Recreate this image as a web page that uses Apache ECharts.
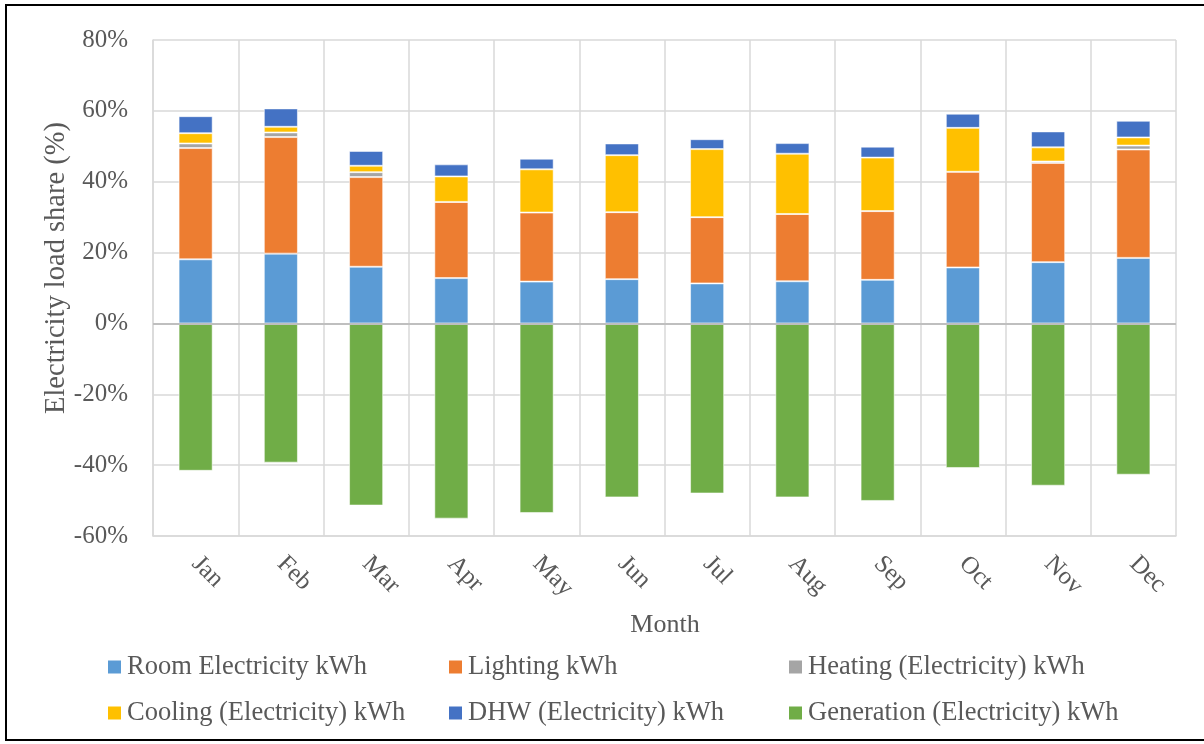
<!DOCTYPE html>
<html>
<head>
<meta charset="utf-8">
<script src="https://cdn.jsdelivr.net/npm/echarts@6/dist/echarts.min.js"></script>
<style>
  html, body { margin: 0; padding: 0; background: #fff; }
  #chart { width: 1204px; height: 744px; }
</style>
</head>
<body>
<div id="chart"></div>
<script>
// Monthly electricity load shares (% of annual), generation shown as negative
const months = ['Jan', 'Feb', 'Mar', 'Apr', 'May', 'Jun', 'Jul', 'Aug', 'Sep', 'Oct', 'Nov', 'Dec'];
const roomElectricity = [18.1, 19.7, 16.0, 12.8, 11.8, 12.5, 11.3, 11.9, 12.3, 15.8, 17.3, 18.5];
const lighting        = [31.4, 32.9, 25.3, 21.5, 19.5, 18.9, 18.7, 19.0, 19.4, 27.0, 28.0, 30.6];
const heating         = [1.3, 1.3, 1.4, 0, 0, 0, 0, 0, 0, 0, 0.4, 1.1];
const cooling         = [2.9, 1.6, 1.8, 7.2, 12.2, 16.1, 19.2, 17.0, 15.1, 12.4, 4.0, 2.3];
const dhw             = [4.8, 5.2, 4.2, 3.4, 3.0, 3.3, 2.8, 3.0, 3.1, 4.0, 4.5, 4.7];
const generation      = [-41.6, -39.3, -51.4, -55.1, -53.5, -49.1, -48.0, -49.1, -50.1, -40.8, -45.8, -42.7];

const yTicks = { min: -60, max: 80, step: 20 };

const FONT = '"Liberation Serif", "Times New Roman", serif';
const TEXT = '#595959';
const GRID = '#d9d9d9';

const names = {
  room: 'Room Electricity kWh',
  light: 'Lighting kWh',
  heat: 'Heating (Electricity) kWh',
  cool: 'Cooling (Electricity) kWh',
  dhw: 'DHW (Electricity) kWh',
  gen: 'Generation (Electricity) kWh'
};

function bar(name, data, color, extra) {
  return Object.assign({
    name: name,
    type: 'bar',
    stack: 'share',
    data: data,
    barWidth: '40%',
    itemStyle: { color: color, borderColor: 'rgba(255,255,255,0.55)', borderWidth: 1 },
    emphasis: { disabled: true }
  }, extra || {});
}

const legendBase = {
  orient: 'vertical',
  top: 652,
  padding: 0,
  itemGap: 16,
  itemWidth: 13,
  itemHeight: 13,
  icon: 'rect',
  itemStyle: { borderWidth: 0 },
  textStyle: { fontFamily: FONT, fontSize: 26.5, lineHeight: 30, color: TEXT, padding: [0, 0, 0, 1] },
  selectedMode: false
};

const chart = echarts.init(document.getElementById('chart'), null, { renderer: 'canvas' });

chart.setOption({
  backgroundColor: '#fff',
  animation: false,
  grid: { left: 153, right: 28, top: 40, bottom: 208, containLabel: false },
  xAxis: {
    type: 'category',
    data: months,
    boundaryGap: true,
    axisLine: { onZero: false, show: true, lineStyle: { color: GRID, width: 1.5 } },
    axisTick: { show: false },
    splitLine: { show: true, interval: 0, lineStyle: { color: GRID, width: 1.5 } },
    axisLabel: {
      interval: 0,
      rotate: -45,
      margin: 24,
      fontFamily: FONT,
      fontSize: 25,
      color: TEXT
    }
  },
  yAxis: {
    type: 'value',
    min: yTicks.min,
    max: yTicks.max,
    interval: yTicks.step,
    axisLine: { show: true, lineStyle: { color: GRID, width: 1.5 } },
    axisTick: { show: false },
    splitLine: { show: true, lineStyle: { color: GRID, width: 1.5 } },
    axisLabel: {
      formatter: '{value}%',
      margin: 25,
      fontFamily: FONT,
      fontSize: 25,
      color: TEXT
    }
  },
  legend: [
    Object.assign({}, legendBase, { left: 108, data: [names.room, names.cool] }),
    Object.assign({}, legendBase, { left: 449, data: [names.light, names.dhw] }),
    Object.assign({}, legendBase, { left: 789, data: [names.heat, names.gen] })
  ],
  graphic: [
    {
      type: 'text',
      x: 665, y: 625,
      style: {
        text: 'Month',
        font: '26px ' + FONT,
        fill: TEXT,
        align: 'center',
        verticalAlign: 'middle'
      },
      z: 10
    },
    {
      type: 'text',
      x: 57, y: 268,
      rotation: Math.PI / 2,
      style: {
        text: 'Electricity load share (%)',
        font: '28.5px ' + FONT,
        fill: TEXT,
        align: 'center',
        verticalAlign: 'middle'
      },
      z: 10
    },
    {
      type: 'rect',
      shape: { x: 6, y: 5, width: 1210, height: 735 },
      style: { fill: 'none', stroke: '#000', lineWidth: 2 },
      z: 20
    }
  ],
  series: [
    bar(names.room, roomElectricity, '#5B9BD5', {
      markLine: {
        silent: true,
        symbol: 'none',
        label: { show: false },
        lineStyle: { color: '#bfbfbf', width: 2, type: 'solid' },
        data: [{ yAxis: 0 }],
        z: 5
      }
    }),
    bar(names.light, lighting, '#ED7D31'),
    bar(names.heat, heating, '#A5A5A5'),
    bar(names.cool, cooling, '#FFC000'),
    bar(names.dhw, dhw, '#4472C4'),
    bar(names.gen, generation, '#70AD47')
  ]
});
</script>
</body>
</html>
